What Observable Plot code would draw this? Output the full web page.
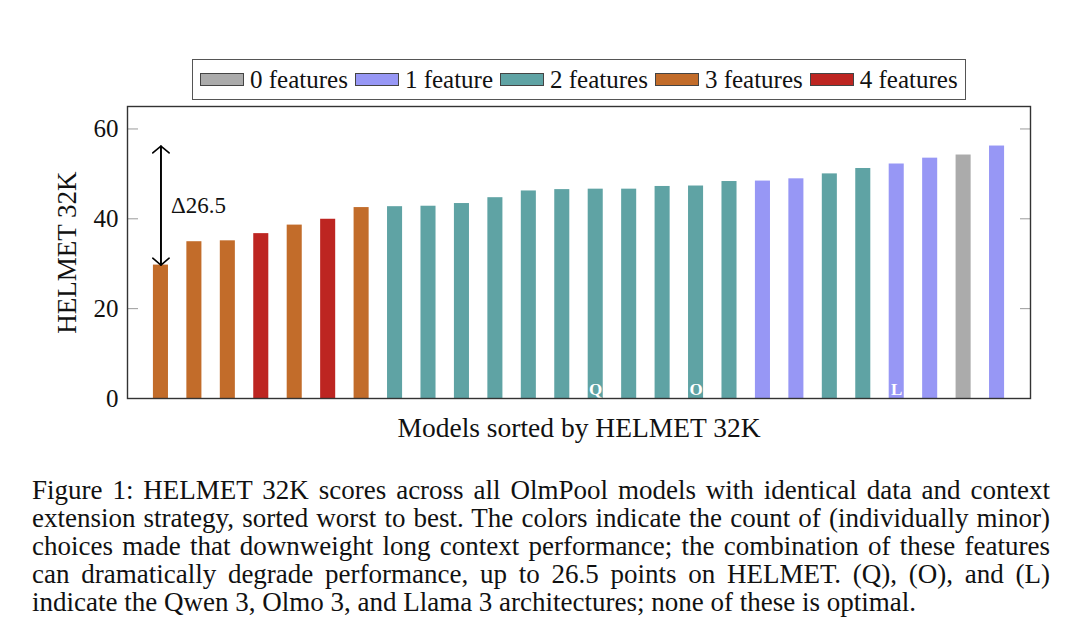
<!DOCTYPE html>
<html>
<head>
<meta charset="utf-8">
<script src="https://cdn.jsdelivr.net/npm/d3@7"></script>
<script src="https://cdn.jsdelivr.net/npm/@observablehq/plot@0.6"></script>
<style>
  html, body { margin: 0; padding: 0; background: #fff; }
  #page { position: relative; width: 1080px; height: 644px; overflow: hidden; font-family: "Liberation Serif", serif; color: #111; }
  #chart { position: absolute; left: 0; top: 0; }
  #legend { position: absolute; left: 192px; top: 59px; width: 765px; height: 39px; border: 1.5px solid #555; box-sizing: content-box;
            display: flex; align-items: center; padding-left: 7px; font-size: 25px; white-space: nowrap; }
  #legend .sw { display: inline-block; width: 42px; height: 11px; border: 1px solid #444; margin-right: 6px; }
  #legend .lab { margin-right: 7px; }
  #caption { position: absolute; left: 32px; top: 476px; width: 1018px; font-size: 27px; line-height: 28px; }
  #caption div { text-align: justify; text-align-last: justify; white-space: nowrap; }
  #caption div.last { text-align-last: left; }
</style>
</head>
<body>
<div id="page">
  <div id="chart"></div>
  <div id="legend"></div>
  <div id="caption"></div>
</div>
<script>
// ---- data ----
const scores = [29.7, 34.9, 35.1, 36.7, 38.6, 39.9, 42.5, 42.7, 42.8, 43.4, 44.7, 46.2, 46.5,
                46.6, 46.6, 47.2, 47.3, 48.3, 48.4, 48.9, 50.0, 51.2, 52.2, 53.5, 54.2, 56.2];
const featureCounts = [3, 3, 3, 4, 3, 4, 3, 2, 2, 2, 2, 2, 2, 2, 2, 2, 2, 2, 1, 1, 2, 2, 1, 1, 0, 1];
const archPositions = [13, 16, 22];
const archNames = ["Q", "O", "L"];
const featureLabels = ["0 features", "1 feature", "2 features", "3 features", "4 features"];
const featureColors = ["#ababab", "#9797f5", "#5fa3a4", "#c26c2a", "#bd2521"];
const yTicks = [0, 20, 40, 60];
const yLabel = "HELMET 32K";
const xLabel = "Models sorted by HELMET 32K";
const captionLines = [
  "Figure 1: HELMET 32K scores across all OlmPool models with identical data and context",
  "extension strategy, sorted worst to best.  The colors indicate the count of (individually minor)",
  "choices made that downweight long context performance; the combination of these features",
  "can dramatically degrade performance, up to 26.5 points on HELMET. (Q), (O), and (L)",
  "indicate the Qwen 3, Olmo 3, and Llama 3 architectures; none of these is optimal."
];

// ---- derived tables ----
const bars = scores.map((v, i) => ({i, value: v, feat: featureCounts[i]}));
const arch = archPositions.map((p, k) => ({i: p, name: archNames[k]}));
const lo = d3.min(scores), hi = d3.max(scores);
const loIdx = scores.indexOf(lo);
const span = [{i: loIdx, y1: lo, y2: hi}];
const deltaText = [{i: loIdx, y: (lo + hi) / 2, t: "\u0394" + (hi - lo).toFixed(1)}];

const plot = Plot.plot({
  width: 1080,
  height: 450,
  marginLeft: 127,
  marginRight: 50,
  marginTop: 106,
  marginBottom: 52,
  style: {fontFamily: "Liberation Serif, serif", fontSize: "25px", color: "#111", background: "transparent"},
  x: {type: "band", domain: d3.range(scores.length), paddingInner: 0.55, paddingOuter: 0.775, round: false, axis: null},
  y: {domain: [0, 65], axis: null, label: null},
  color: {type: "ordinal", domain: d3.range(featureLabels.length), range: featureColors},
  marks: [
    Plot.barY(bars, {x: "i", y: "value", fill: "feat"}),
    Plot.text(arch, {x: "i", text: "name", frameAnchor: "bottom", dy: -4, lineAnchor: "bottom",
                     fill: "white", fontWeight: "bold", fontSize: 17}),
    Plot.axisY({anchor: "left", ticks: yTicks, tickSize: 0, tickPadding: 9, label: null, fontSize: 25}),
    Plot.axisY({anchor: "left", ticks: yTicks, tickSize: -11, tickFormat: () => "", label: null, stroke: "#9a9a9a"}),
    Plot.axisY({anchor: "right", ticks: yTicks, tickSize: -11, tickFormat: () => "", label: null, stroke: "#9a9a9a"}),
    Plot.frame({stroke: "#333", strokeWidth: 1.4}),
    Plot.arrow(span, {x1: "i", x2: "i", y1: "y1", y2: "y2", stroke: "black", strokeWidth: 1.6, headLength: 10, headAngle: 100}),
    Plot.arrow(span, {x1: "i", x2: "i", y1: "y2", y2: "y1", stroke: "black", strokeWidth: 1.6, headLength: 10, headAngle: 100}),
    Plot.text(deltaText, {x: "i", y: "y", text: "t", textAnchor: "start", dx: 10, fontSize: 23}),
    Plot.text([yLabel], {frameAnchor: "left", rotate: -90, dx: -60, fontSize: 27, textAnchor: "middle", lineAnchor: "middle"}),
    Plot.text([xLabel], {frameAnchor: "bottom", dy: 30, fontSize: 27.5, lineAnchor: "middle"})
  ]
});
document.getElementById("chart").appendChild(plot);

// ---- legend ----
const legend = document.getElementById("legend");
featureLabels.forEach((lab, k) => {
  const sw = document.createElement("span");
  sw.className = "sw";
  sw.style.background = featureColors[k];
  legend.appendChild(sw);
  const t = document.createElement("span");
  t.className = "lab";
  t.textContent = lab;
  legend.appendChild(t);
});

// ---- caption ----
const cap = document.getElementById("caption");
captionLines.forEach((line, k) => {
  const d = document.createElement("div");
  d.textContent = line;
  if (k === captionLines.length - 1) d.className = "last";
  cap.appendChild(d);
});
</script>
</body>
</html>
